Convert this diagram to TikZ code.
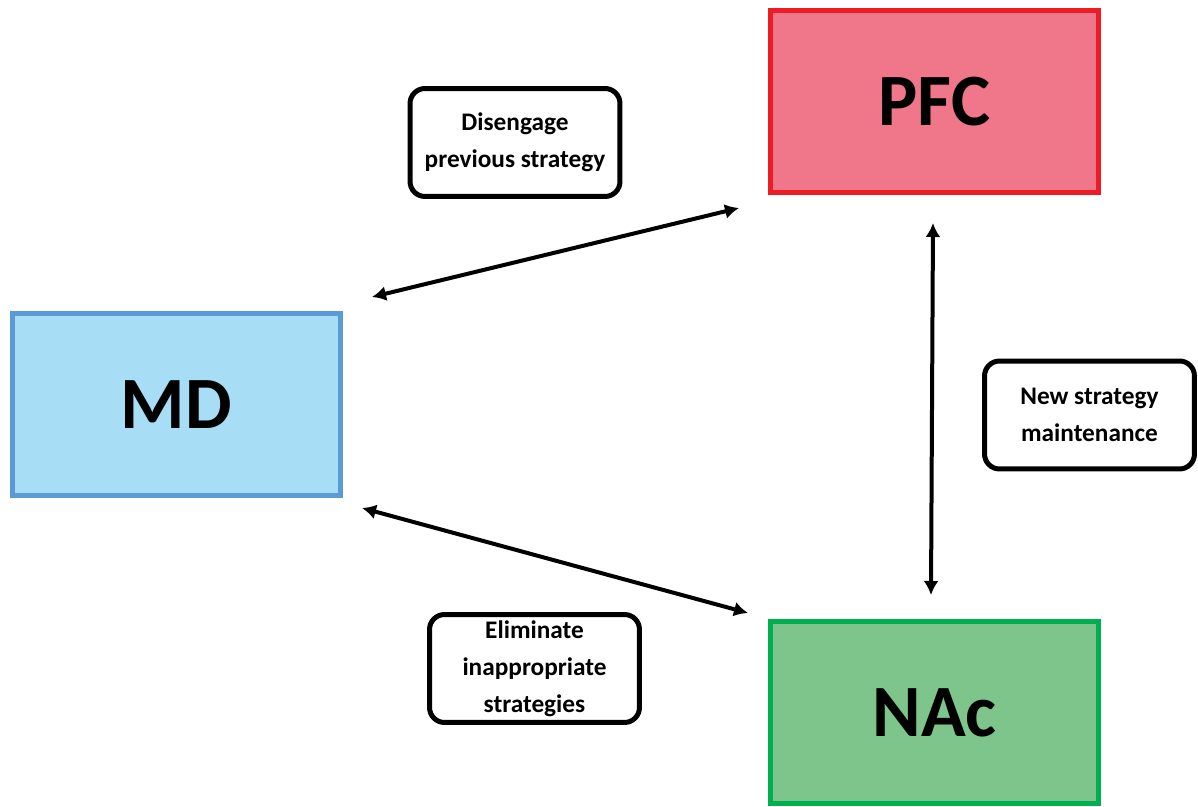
\documentclass[tikz,border=0pt]{standalone}
\usepackage{fontspec}
\setmainfont{Carlito}
\usetikzlibrary{arrows.meta}

\definecolor{pfcred}{HTML}{ED1C24}
\definecolor{pfcfill}{HTML}{F0778A}
\definecolor{mdblue}{HTML}{5B9BD5}
\definecolor{mdfill}{HTML}{A7DDF5}
\definecolor{nacgreen}{HTML}{00B050}
\definecolor{nacfill}{HTML}{7DC58A}

\begin{document}
\begin{tikzpicture}[x=0.02cm,y=-0.02cm,
    region/.style={draw,line width=0.1cm,minimum width=6.56cm,minimum height=3.64cm,
      font=\fontsize{42}{50}\selectfont\bfseries},
    role/.style={draw,line width=0.1cm,rounded corners=0.3cm,fill=white,
      minimum width=4.2cm,minimum height=2.16cm,align=center,
      font=\fontsize{14.4}{21}\selectfont\bfseries},
    link/.style={line width=0.08cm,
      {Latex[length=0.28cm,width=0.3cm]}-{Latex[length=0.28cm,width=0.3cm]}}]
  \useasboundingbox (0,0) rectangle (1198,807);

  %% brain regions
  \node[region,draw=pfcred,fill=pfcfill] (pfc) at (934.5,101.5) {PFC};
  \node[region,draw=mdblue,fill=mdfill] (md) at (176.5,404.5) {MD};
  \node[region,draw=nacgreen,fill=nacfill] (nac) at (934.5,712.5) {NAc};

  %% what each pathway does
  \node[role] (disengage) at (515,142.5) {Disengage\\previous strategy};
  \node[role] (maintain) at (1089.5,415) {New strategy\\maintenance};
  \node[role] (eliminate) at (534.5,668.5) {Eliminate\\inappropriate\\strategies};

  %% arrow ends, left short of the boxes
  \coordinate (mdtop) at (372,297);
  \coordinate (pfcleft) at (739,208);
  \coordinate (mdbottom) at (362,508);
  \coordinate (nacleft) at (748,613);
  \coordinate (pfcbottom) at (933,223);
  \coordinate (nactop) at (931,595);

  \draw[link] (mdtop) -- (pfcleft);
  \draw[link] (mdbottom) -- (nacleft);
  \draw[link] (pfcbottom) -- (nactop);
\end{tikzpicture}
\end{document}
